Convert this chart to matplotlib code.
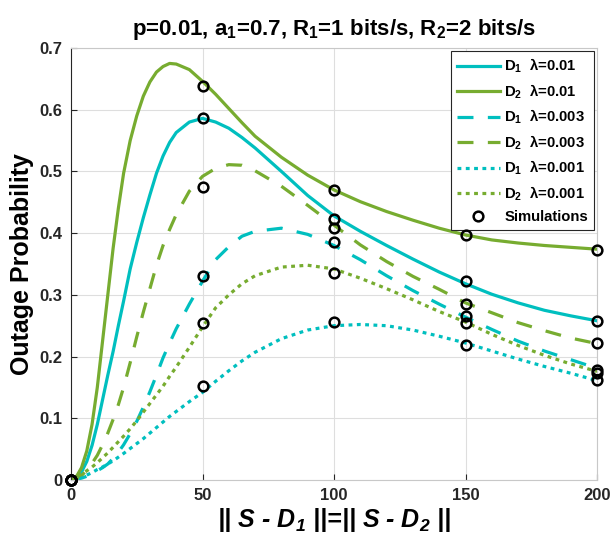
import matplotlib
matplotlib.use('Agg')
import matplotlib.pyplot as plt

plt.rcParams['font.family'] = ['Liberation Sans', 'DejaVu Sans']
plt.rcParams['mathtext.fontset'] = 'custom'
plt.rcParams['mathtext.rm'] = 'Liberation Sans'
plt.rcParams['mathtext.bf'] = 'Liberation Sans:bold'
plt.rcParams['mathtext.it'] = 'Liberation Sans:italic'
plt.rcParams['mathtext.bfit'] = 'Liberation Sans:italic:bold'
plt.rcParams['mathtext.default'] = 'bf'

# distance ||S - D1|| = ||S - D2||
x = [0, 2, 4, 6, 8, 10, 12, 14, 16, 18, 20, 22.5, 25, 27.5, 30, 32.5, 35, 37.5, 40, 45,
     50, 55, 60, 65, 70, 80, 90, 100, 110, 120, 130, 140, 150, 160, 170, 180, 190, 200]

# analytical outage probability curves
d1_l01 = [0, 0.003, 0.013, 0.03, 0.056, 0.09, 0.13, 0.17, 0.208, 0.25,
          0.29, 0.342, 0.385, 0.425, 0.462, 0.497, 0.525, 0.547, 0.563, 0.580,
          0.586, 0.580, 0.570, 0.555, 0.538, 0.500, 0.461, 0.428, 0.403, 0.380,
          0.358, 0.337, 0.318, 0.301, 0.287, 0.275, 0.266, 0.258]
d2_l01 = [0, 0.005, 0.02, 0.047, 0.09, 0.15, 0.225, 0.30, 0.375, 0.44,
          0.497, 0.550, 0.590, 0.622, 0.645, 0.661, 0.670, 0.675, 0.674, 0.665,
          0.646, 0.625, 0.602, 0.579, 0.557, 0.523, 0.494, 0.470, 0.451, 0.435,
          0.421, 0.408, 0.397, 0.389, 0.384, 0.380, 0.377, 0.374]
d1_l003 = [0, 0.001, 0.003, 0.006, 0.01, 0.015, 0.02, 0.026, 0.035, 0.045,
           0.057, 0.075, 0.095, 0.118, 0.143, 0.170, 0.198, 0.222, 0.245, 0.285,
           0.322, 0.357, 0.378, 0.395, 0.403, 0.408, 0.398, 0.380, 0.357, 0.331,
           0.307, 0.285, 0.264, 0.244, 0.225, 0.209, 0.195, 0.181]
d2_l003 = [0, 0.002, 0.007, 0.016, 0.027, 0.04, 0.057, 0.076, 0.098, 0.122,
           0.15, 0.19, 0.232, 0.272, 0.31, 0.348, 0.38, 0.406, 0.43, 0.468,
           0.492, 0.505, 0.511, 0.510, 0.501, 0.476, 0.445, 0.413, 0.381, 0.354,
           0.330, 0.309, 0.287, 0.271, 0.255, 0.242, 0.230, 0.221]
d1_l001 = [0, 0.002, 0.005, 0.008, 0.012, 0.017, 0.021, 0.026, 0.031, 0.037,
           0.043, 0.051, 0.059, 0.067, 0.076, 0.085, 0.094, 0.103, 0.111, 0.127,
           0.142, 0.160, 0.177, 0.193, 0.207, 0.229, 0.243, 0.250, 0.252, 0.250,
           0.243, 0.233, 0.222, 0.209, 0.196, 0.184, 0.173, 0.161]
d2_l001 = [0, 0.004, 0.009, 0.015, 0.021, 0.028, 0.036, 0.044, 0.053, 0.062,
           0.071, 0.083, 0.096, 0.110, 0.124, 0.138, 0.152, 0.168, 0.183, 0.215,
           0.248, 0.279, 0.300, 0.318, 0.331, 0.345, 0.348, 0.342, 0.327, 0.310,
           0.292, 0.273, 0.256, 0.236, 0.218, 0.202, 0.188, 0.176]

# simulation points
sim_x = [0, 50, 100, 150, 200]
sim_d1_l01 = [0, 0.587, 0.423, 0.323, 0.258]
sim_d2_l01 = [0, 0.639, 0.470, 0.397, 0.373]
sim_d1_l003 = [0, 0.331, 0.386, 0.266, 0.178]
sim_d2_l003 = [0, 0.475, 0.409, 0.285, 0.222]
sim_d1_l001 = [0, 0.152, 0.256, 0.219, 0.162]
sim_d2_l001 = [0, 0.254, 0.336, 0.255, 0.173]

cyan = '#00BFBF'
green = '#77AC30'
lw = 2.3
dash = (5.0, 4.5)
dot = (1.2, 1.4)

fig = plt.figure(figsize=(6.11, 5.47), dpi=100)
ax = fig.add_axes([71 / 611, 67 / 547, 526 / 611, 432 / 547])

ax.plot(x, d1_l01, color=cyan, lw=lw, label=r'D$_{1}$  λ=0.01')
ax.plot(x, d2_l01, color=green, lw=lw, label=r'D$_{2}$  λ=0.01')
ax.plot(x, d1_l003, color=cyan, lw=lw, dashes=dash, label=r'D$_{1}$  λ=0.003')
ax.plot(x, d2_l003, color=green, lw=lw, dashes=dash, label=r'D$_{2}$  λ=0.003')
ax.plot(x, d1_l001, color=cyan, lw=lw, dashes=dot, label=r'D$_{1}$  λ=0.001')
ax.plot(x, d2_l001, color=green, lw=lw, dashes=dot, label=r'D$_{2}$  λ=0.001')

sims = [sim_d1_l01, sim_d2_l01, sim_d1_l003, sim_d2_l003, sim_d1_l001, sim_d2_l001]
for i, s in enumerate(sims):
    ax.plot(sim_x, s, 'o', mfc='none', mec='k', ms=7, mew=1.8, zorder=6, clip_on=False,
            label='Simulations' if i == len(sims) - 1 else None)

ax.set_xlim(0, 200)
ax.set_ylim(0, 0.7)
ax.set_xticks([0, 50, 100, 150, 200])
yt = [0, 0.1, 0.2, 0.3, 0.4, 0.5, 0.6, 0.7]
ax.set_yticks(yt)
ax.set_yticklabels(['%g' % v for v in yt])
ax.grid(True, color='#dedede', lw=0.8)
ax.set_axisbelow(True)
ax.tick_params(direction='in', length=4, width=0.8, colors='#262626', labelsize=12, pad=6)
for lbl in ax.get_xticklabels() + ax.get_yticklabels():
    lbl.set_fontweight('bold')
for side in ['top', 'right', 'bottom']:
    ax.spines[side].set_color('#c8c8c8')
ax.spines['left'].set_color('#262626')

ax.set_title(r'p=0.01, a$_{1}$=0.7, R$_{1}$=1 bits/s, R$_{2}$=2 bits/s',
             fontsize=16, fontweight='bold', pad=9)
ax.set_xlabel(r'|| S - D$_{\mathbfit{1}}$ ||=|| S - D$_{\mathbfit{2}}$ ||',
              fontsize=18, fontweight='bold', fontstyle='italic', labelpad=2)
ax.set_ylabel('Outage Probability', fontsize=18, fontweight='bold', labelpad=4)

leg = ax.legend(loc='upper right', bbox_to_anchor=(1.0, 1.0), borderaxespad=0.2,
                prop={'size': 10.7, 'weight': 'bold'}, handlelength=2.9,
                handletextpad=0.3, labelspacing=0.48, fancybox=False, framealpha=1)
leg.get_frame().set_edgecolor('#262626')
leg.get_frame().set_linewidth(0.8)

fig.savefig('out.png', dpi=100)
